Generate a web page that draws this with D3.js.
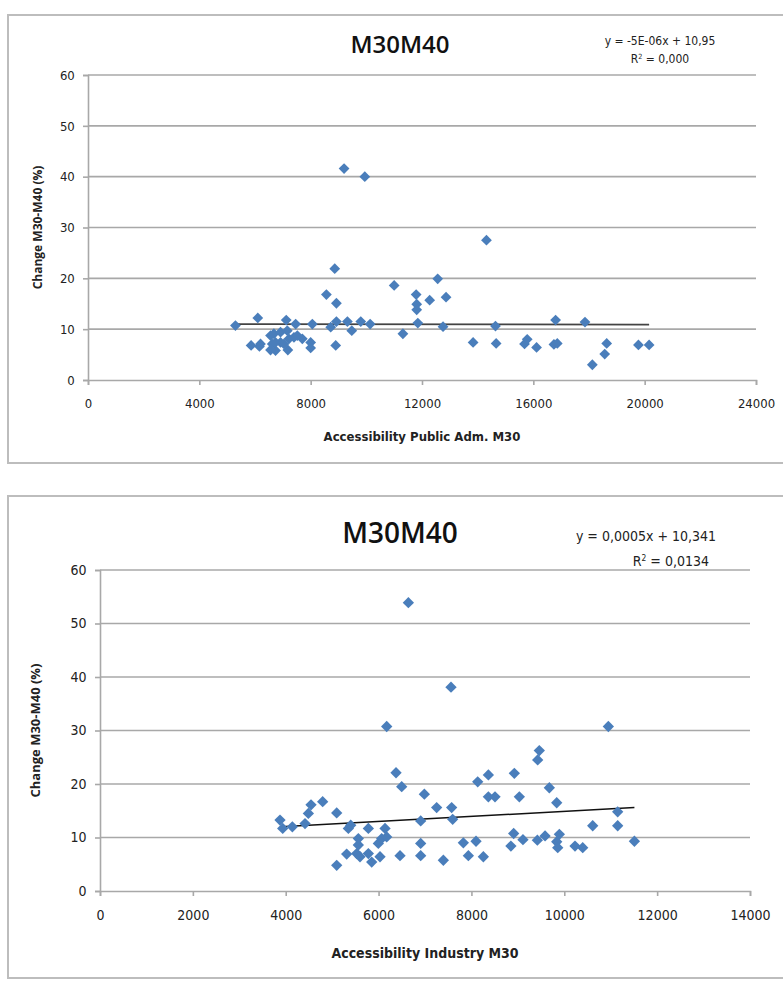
<!DOCTYPE html>
<html>
<head>
<meta charset="utf-8">
<script src="https://cdn.jsdelivr.net/npm/d3@7"></script>
<style>
  body { margin: 0; background: #fff; }
  svg { display: block; }
</style>
</head>
<body>
<svg id="chart" width="783" height="981"></svg>
<script>
// top chart: Accessibility Public Adm. M30 vs change
const pubX = [9200, 9945, 8865, 11000, 8565, 8925, 11790, 11810, 11810, 11850, 5297, 6100, 7122, 7460, 8060, 8720, 8925, 9320, 9477, 9800,
  10137, 11314, 8900, 5860, 6198, 6160, 6558, 6678, 6918, 7160, 6618, 6738, 6558, 6918, 7220, 7400, 7700, 8000, 8000, 7180,
  7040, 7520, 6738, 12276, 12564, 12864, 12756, 14316, 13836, 14640, 14664, 15684, 15780, 16116, 16740, 16860, 16800, 17856, 18636, 18564,
  18120, 19776, 20160]
const pubY = [41.6, 40.0, 21.9, 18.6, 16.8, 15.1, 16.8, 14.9, 13.8, 11.2, 10.7, 12.2, 11.8, 11.0, 11.0, 10.4, 11.5, 11.5, 9.7, 11.5,
  11.0, 9.1, 6.8, 6.8, 7.1, 6.6, 8.75, 9.1, 9.4, 9.7, 7.1, 5.8, 5.9, 7.4, 8.1, 8.4, 8.1, 7.4, 6.3, 5.9,
  7.1, 8.75, 7.4, 15.7, 19.9, 16.3, 10.5, 27.5, 7.4, 10.6, 7.2, 7.1, 8.0, 6.4, 7.0, 7.2, 11.8, 11.4, 7.2, 5.1,
  3.0, 6.9, 6.9]
const pubTrendX = [5300, 20160]
const pubTrendY = [11.0, 10.9]

// bottom chart: Accessibility Industry M30 vs change
const indX = [3877, 3935, 4143, 4416, 4488, 4545, 4796, 5098, 5349, 5400, 5098, 5313, 5529, 5564, 5564, 5600, 5780, 5780, 5852, 6031,
  5995, 6067, 6139, 6175, 6462, 6175, 6376, 6498, 6642, 7560, 10949, 9462, 9427, 6986, 8135, 8365, 8924, 9678, 9837, 8365,
  8508, 9032, 7251, 7574, 7596, 6907, 11150, 11150, 10612, 11510, 8910, 9110, 8850, 9420, 9586, 9894, 9837, 9859, 10231, 10397,
  7826, 8099, 6907, 6907, 7395, 7934, 8257]
const indY = [13.25, 11.7, 12.0, 12.6, 14.5, 16.1, 16.7, 14.6, 11.7, 12.3, 4.8, 6.9, 7.0, 8.6, 9.8, 6.4, 11.7, 7.0, 5.4, 6.4,
  8.9, 9.8, 11.7, 10.1, 6.6, 30.75, 22.1, 19.5, 53.9, 38.1, 30.75, 26.25, 24.5, 18.1, 20.4, 21.7, 22.0, 19.3, 16.5, 17.6,
  17.6, 17.6, 15.6, 15.6, 13.4, 13.1, 14.8, 12.2, 12.2, 9.3, 10.75, 9.6, 8.4, 9.5, 10.3, 10.6, 9.2, 8.1, 8.4, 8.1,
  9.0, 9.3, 8.9, 6.6, 5.75, 6.6, 6.4]
const indTrendX = [3900, 11510]
const indTrendY = [12.0, 15.6]

const yTicks = [0, 10, 20, 30, 40, 50, 60]
const pubTicks = [0, 4000, 8000, 12000, 16000, 20000, 24000]
const indTicks = [0, 2000, 4000, 6000, 8000, 10000, 12000, 14000]

const svg = d3.select('#chart')
const markColor = '#4a7ebb'
const gridColor = '#a8a8a8'
const narrow = '"Liberation Sans Narrow", "DejaVu Sans Condensed", "Roboto", sans-serif'
const bold = '"Open Sans", "Liberation Sans", sans-serif'

function drawPanel(cfg){
    const g = svg.append('g')

    // outer frame
    g.append('rect')
    .attr('x', cfg.frame[0]).attr('y', cfg.frame[1])
    .attr('width', cfg.frame[2]).attr('height', cfg.frame[3])
    .attr('fill', 'none').attr('stroke', '#bdbdbd').attr('stroke-width', 2)

    const x = d3.scaleLinear().domain([0, cfg.xMax]).range([cfg.left, cfg.right])
    const y = d3.scaleLinear().domain([0, 60]).range([cfg.bottom, cfg.top])

    // gridlines
    g.selectAll('.grid').data(yTicks.slice(1)).enter().append('line')
    .attr('x1', cfg.left).attr('x2', cfg.right)
    .attr('y1', d => y(d)).attr('y2', d => y(d))
    .attr('stroke', gridColor).attr('stroke-width', 1.6)

    const xAxis = g.append('g').attr('transform', `translate(0,${cfg.bottom})`)
    .call(d3.axisBottom(x).tickValues(cfg.xTicks).tickSize(5).tickFormat(d => d))
    const yAxis = g.append('g').attr('transform', `translate(${cfg.left},0)`)
    .call(d3.axisLeft(y).tickValues(yTicks).tickSize(5).tickFormat(d => d))
    ;[xAxis, yAxis].forEach(a => {
        a.select('.domain').attr('stroke', gridColor).attr('stroke-width', 1.6)
        a.selectAll('.tick line').attr('stroke', gridColor).attr('stroke-width', 1.6)
        a.selectAll('.tick text').attr('font-family', narrow).attr('font-size', cfg.tickSize).attr('fill', '#222')
    })
    xAxis.selectAll('.tick text').attr('dy', '1.5em')
    yAxis.selectAll('.tick text').attr('dx', '-0.4em')

    // trendline
    g.append('line')
    .attr('x1', x(cfg.trendX[0])).attr('y1', y(cfg.trendY[0]))
    .attr('x2', x(cfg.trendX[1])).attr('y2', y(cfg.trendY[1]))
    .attr('stroke', cfg.trendColor).attr('stroke-width', 1.6)

    // diamonds
    const diamond = d3.symbol().type(d3.symbolSquare).size(cfg.markSize)
    g.selectAll('.pt').data(cfg.xs).enter().append('path')
    .attr('d', diamond)
    .attr('transform', (d, i) => `translate(${x(d)},${y(cfg.ys[i])}) rotate(45)`)
    .attr('fill', markColor)

    // title
    g.append('text')
    .attr('x', cfg.titleX).attr('y', cfg.titleY)
    .attr('text-anchor', 'middle')
    .attr('font-family', bold)
    .attr('font-size', cfg.titleSize).attr('font-weight', 600)
    .attr('fill', '#111')
    .text('M30M40')

    // equation
    cfg.eq.forEach(e => {
        const t = g.append('text')
        .attr('x', e.x).attr('y', e.y)
        .attr('text-anchor', e.anchor)
        .attr('font-family', narrow)
        .attr('font-size', e.size).attr('fill', '#222')
        if(e.sup){
            t.append('tspan').text('R')
            t.append('tspan').attr('baseline-shift', 'super').attr('font-size', e.size * 0.6).text('2')
            t.append('tspan').text(e.text)
        }else{
            t.text(e.text)
        }
    })

    // axis titles
    g.append('text')
    .attr('x', (cfg.left + cfg.right) / 2).attr('y', cfg.xTitleY)
    .attr('text-anchor', 'middle')
    .attr('font-family', narrow)
    .attr('font-size', cfg.axisTitleSize).attr('font-weight', 'bold').attr('fill', '#222')
    .text(cfg.xTitle)

    g.append('text')
    .attr('transform', `translate(${cfg.yTitleX},${y(30)}) rotate(-90)`)
    .attr('text-anchor', 'middle')
    .attr('font-family', bold)
    .attr('font-size', cfg.axisTitleSize - 1).attr('font-weight', 'bold').attr('fill', '#222')
    .text('Change M30-M40 (%)')
}

drawPanel({
    frame: [8, 15, 790, 448],
    left: 88, right: 756, top: 75, bottom: 380,
    xMax: 24000, xTicks: pubTicks,
    xs: pubX, ys: pubY, markSize: 58,
    trendX: pubTrendX, trendY: pubTrendY, trendColor: '#444',
    titleX: 400, titleY: 53, titleSize: 24,
    tickSize: 13, axisTitleSize: 13,
    eq: [
        {x: 660, y: 45, anchor: 'middle', size: 12, text: 'y = -5E-06x + 10,95'},
        {x: 660, y: 63, anchor: 'middle', size: 12, sup: true, text: ' = 0,000'}
    ],
    xTitle: 'Accessibility Public Adm. M30', xTitleY: 441,
    yTitleX: 42
})

drawPanel({
    frame: [8, 496, 790, 482],
    left: 100, right: 750, top: 570, bottom: 891,
    xMax: 14000, xTicks: indTicks,
    xs: indX, ys: indY, markSize: 64,
    trendX: indTrendX, trendY: indTrendY, trendColor: '#111',
    titleX: 400, titleY: 543, titleSize: 28,
    tickSize: 14, axisTitleSize: 14,
    eq: [
        {x: 716, y: 541, anchor: 'end', size: 14, text: 'y = 0,0005x + 10,341'},
        {x: 709, y: 566, anchor: 'end', size: 14, sup: true, text: ' = 0,0134'}
    ],
    xTitle: 'Accessibility Industry M30', xTitleY: 958,
    yTitleX: 40
})
</script>
</body>
</html>
